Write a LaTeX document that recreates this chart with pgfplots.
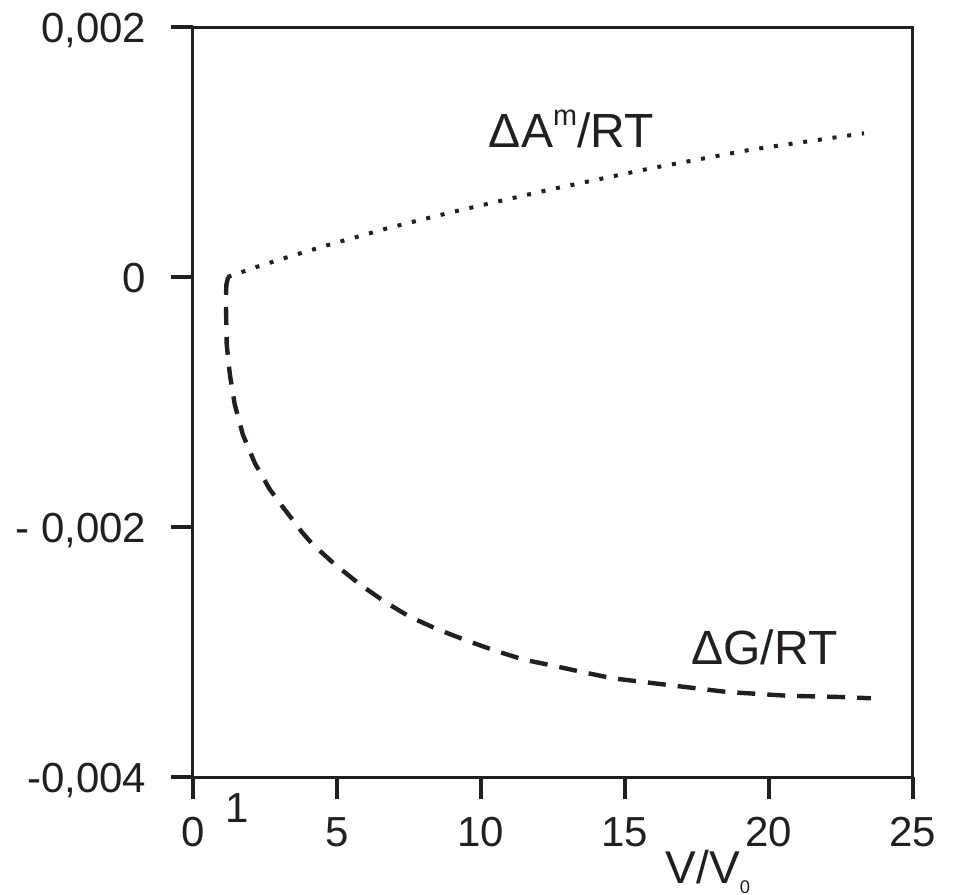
\documentclass[border=0pt]{standalone}
\usepackage{fontspec}
\setmainfont{Liberation Sans}
\usepackage{pgfplots}
\pgfplotsset{compat=1.18}
\definecolor{ink}{RGB}{35,31,32}
\begin{document}
\begin{tikzpicture}[font=\fontsize{10.5}{12.6}\selectfont]
\useasboundingbox (-48.25pt,-29.25pt) rectangle (190.5pt,194.25pt);
\begin{axis}[
  at={(0pt,0pt)}, anchor=south west,
  width=180pt, height=187.5pt, scale only axis,
  xmin=0, xmax=25, ymin=-0.004, ymax=0.002,
  axis line style={ink, line width=0.75pt},
  every tick/.style={ink, line width=0.9pt},
  major tick length=5.5pt,
  tick align=outside, tick pos=left,
  xtick={0,5,10,15,20,25},
  xticklabels={0,5,10,15,20,25},
  ytick={-0.004,-0.002,0,0.002},
  yticklabels={{-0,004},{- 0,002},{0},{0,002}},
  scaled y ticks=false,
  xticklabel style={anchor=base, inner sep=0pt, text=ink, yshift=-11.75pt},
  yticklabel style={anchor=base east, inner sep=0pt, text=ink, xshift=-6pt, yshift=-3.75pt},
  xlabel={V/V\raisebox{-2.5pt}{\fontsize{4.6}{5}\selectfont 0}},
  xlabel style={at={(rel axis cs:0.6556,0)}, anchor=base west, yshift=-26.5pt, inner sep=0pt, text=ink, font=\fontsize{11.5}{13}\selectfont},
  clip=false,
]
\addplot[ink, line width=1pt, dash pattern=on 1pt off 2.7pt] coordinates {
(1.2,0) (2.2,0.00008) (3.3,0.00016) (4.75,0.00026) (6.75,0.00039) (9,0.00052)
(12.4,0.0007) (15.9,0.00087) (19.4,0.00102) (23.3,0.00115)
};
\addplot[ink, line width=1.1pt, dash pattern=on 4.5pt off 3pt] coordinates {
(1.22,0) (1.16,-0.00006) (1.14,-0.00017) (1.17,-0.00054) (1.28,-0.00078)
(1.45,-0.00102) (1.73,-0.00126) (2.15,-0.00149) (2.67,-0.0017) (3.12,-0.00184)
(3.78,-0.00204) (4.16,-0.00214) (4.93,-0.0023) (5.8,-0.00246) (6.67,-0.0026)
(7.54,-0.00272) (8.51,-0.00282) (9.52,-0.00291) (10.5,-0.00299) (11.47,-0.00306)
(12.51,-0.00311) (13.52,-0.00316) (14.56,-0.00321) (15.64,-0.00324)
(18.56,-0.00332) (20.65,-0.00335) (22.5,-0.00336) (23.54,-0.00337)
};
\node[anchor=base west, inner sep=0pt, text=ink, font=\fontsize{12}{14}\selectfont] at (axis cs:10.25,0.001038) {ΔA\raisebox{5.5pt}{\fontsize{7.2}{8}\selectfont m}/RT};
\node[anchor=base west, inner sep=0pt, text=ink, font=\fontsize{12}{14}\selectfont] at (axis cs:17.28,-0.0031) {ΔG/RT};
\node[anchor=base, inner sep=0pt, text=ink, yshift=-11.25pt] at (axis cs:1.52,-0.004) {1};
\end{axis}
\end{tikzpicture}
\end{document}
